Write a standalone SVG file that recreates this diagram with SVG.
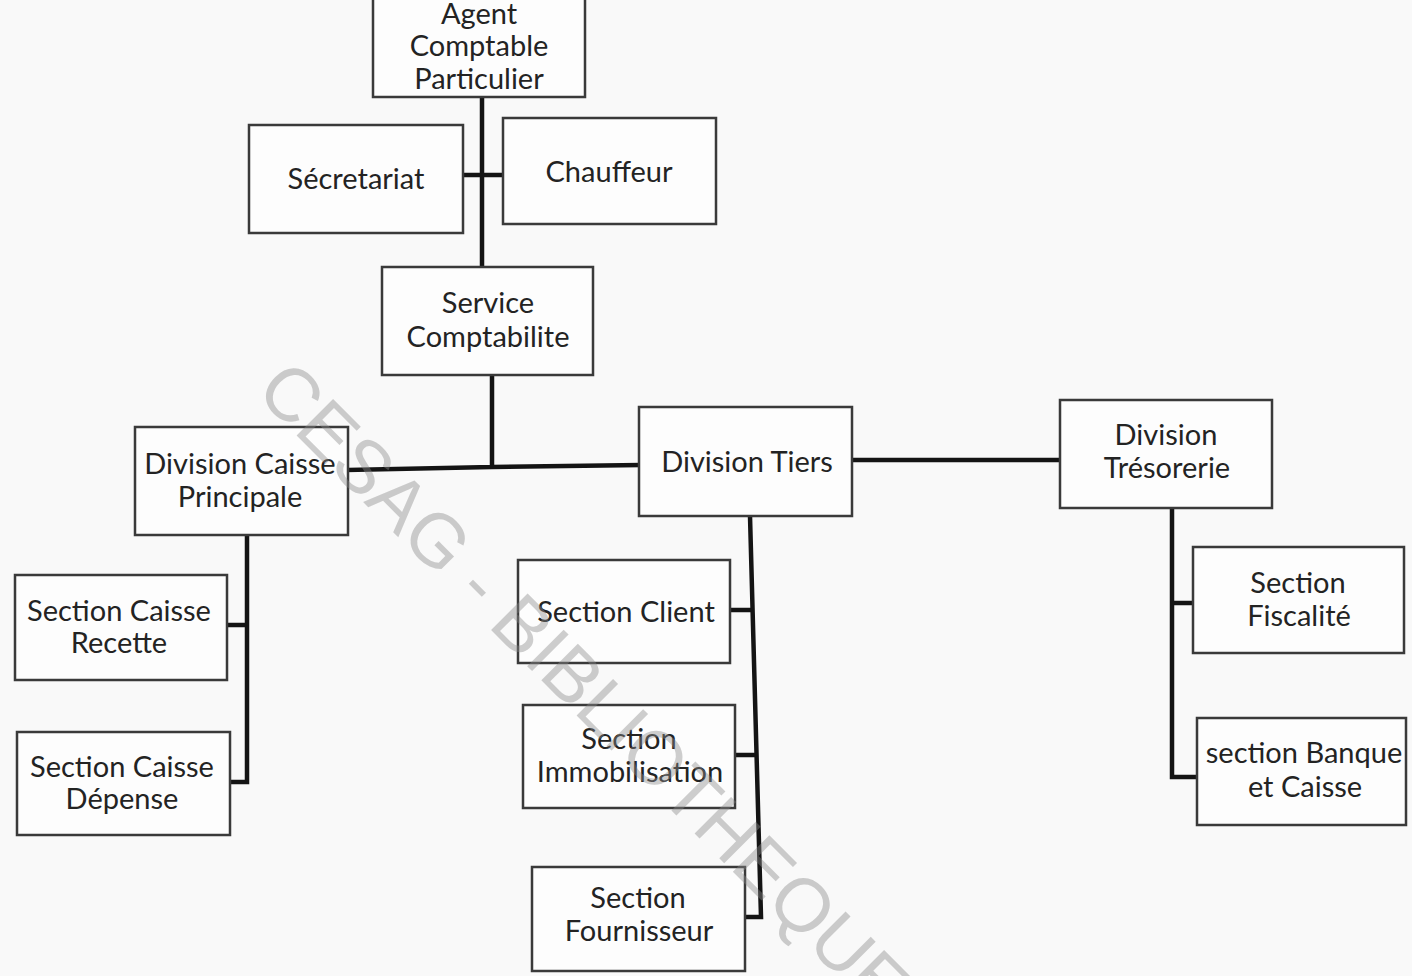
<svg xmlns="http://www.w3.org/2000/svg" width="1412" height="976" viewBox="0 0 1412 976">
<style>
.box{fill:#fdfdfd;stroke:#3a3a3a;stroke-width:2.5}
.lbl{font-family:Lato,"Open Sans","Liberation Sans",sans-serif;font-size:29px;fill:#232323;text-anchor:middle}
.wire{stroke:#141414;stroke-width:4.5;fill:none;stroke-linecap:square}
.wm{font-family:"Liberation Sans",Arial,sans-serif;font-size:75px;fill:#8a8a8a;fill-opacity:0.42}
</style>
<rect x="0" y="0" width="1412" height="976" fill="#f9f9f9"/>
<g id="connectors">
<path class="wire" d="M482 98 V267 M463 175 H503"/>
<path class="wire" d="M492 375 V467 M348 470 L492 467 L639 465"/>
<path class="wire" d="M852 460 H1060"/>
<path class="wire" d="M247 535 V782 H230 M227 625 H247"/>
<path class="wire" d="M750 516 L761 917 H745 M730 610 H752 M735 755 H756"/>
<path class="wire" d="M1172 508 V777 H1198 M1172 603 H1193"/>
</g>
<g id="agent"><rect class="box" x="373" y="-4" width="212" height="101"/>
<text class="lbl" x="479" y="24">Agent</text><text class="lbl" x="479" y="56">Comptable</text><text class="lbl" x="479" y="89">Particulier</text></g>
<g id="secretariat"><rect class="box" x="249" y="125" width="214" height="108"/>
<text class="lbl" x="356" y="189">Sécretariat</text></g>
<g id="chauffeur"><rect class="box" x="503" y="118" width="213" height="106"/>
<text class="lbl" x="609" y="182">Chauffeur</text></g>
<g id="service"><rect class="box" x="382" y="267" width="211" height="108"/>
<text class="lbl" x="488" y="313">Service</text><text class="lbl" x="488" y="347">Comptabilite</text></g>
<g id="div-caisse"><rect class="box" x="135" y="427" width="213" height="108"/>
<text class="lbl" x="240" y="474">Division Caisse</text><text class="lbl" x="240" y="507">Principale</text></g>
<g id="div-tiers"><rect class="box" x="639" y="407" width="213" height="109"/>
<text class="lbl" x="747" y="472">Division Tiers</text></g>
<g id="div-tresorerie"><rect class="box" x="1060" y="400" width="212" height="108"/>
<text class="lbl" x="1166" y="445">Division</text><text class="lbl" x="1167" y="478">Trésorerie</text></g>
<g id="sec-recette"><rect class="box" x="15" y="575" width="212" height="105"/>
<text class="lbl" x="119" y="621">Section Caisse</text><text class="lbl" x="119" y="653">Recette</text></g>
<g id="sec-depense"><rect class="box" x="17" y="732" width="213" height="103"/>
<text class="lbl" x="122" y="777">Section Caisse</text><text class="lbl" x="122" y="809">Dépense</text></g>
<g id="sec-client"><rect class="box" x="518" y="560" width="212" height="103"/>
<text class="lbl" x="626" y="622">Section Client</text></g>
<g id="sec-immo"><rect class="box" x="523" y="705" width="212" height="103"/>
<text class="lbl" x="629" y="749">Section</text><text class="lbl" x="630" y="782">Immobilisation</text></g>
<g id="sec-fournisseur"><rect class="box" x="532" y="867" width="213" height="104"/>
<text class="lbl" x="638" y="908">Section</text><text class="lbl" x="639" y="941">Fournisseur</text></g>
<g id="sec-fiscalite"><rect class="box" x="1193" y="547" width="211" height="106"/>
<text class="lbl" x="1298" y="593">Section</text><text class="lbl" x="1299" y="626">Fiscalité</text></g>
<g id="sec-banque"><rect class="box" x="1197" y="718" width="209" height="107"/>
<text class="lbl" x="1304" y="763">section Banque</text><text class="lbl" x="1305" y="797">et Caisse</text></g>
<text class="wm" transform="translate(254 393) rotate(45)">CESAG - BIBLIOTHEQUE</text>
</svg>
